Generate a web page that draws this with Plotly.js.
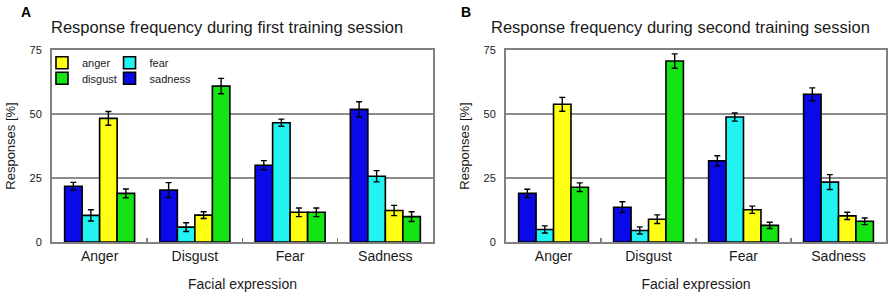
<!DOCTYPE html>
<html>
<head>
<meta charset="utf-8">
<script src="https://cdn.plot.ly/plotly-3.0.1.min.js"></script>
<style>html,body{margin:0;padding:0;background:#fff;}#chart{width:892px;height:299px;}</style>
</head>
<body>
<div id="chart"></div>
<script>
// ---- data ----
var categories = ['Anger', 'Disgust', 'Fear', 'Sadness'];
var yTicks = [0, 25, 50, 75];

// Session 1 (panel A)
var sadness1 = [21.8, 20.3, 30.0, 51.8];
var sadness1Err = [1.5, 2.9, 1.8, 3.0];
var fear1 = [10.4, 5.8, 46.6, 25.7];
var fear1Err = [2.2, 1.7, 1.4, 2.2];
var anger1 = [48.3, 10.5, 11.6, 12.3];
var anger1Err = [2.7, 1.3, 1.7, 2.0];
var disgust1 = [19.0, 60.9, 11.6, 9.9];
var disgust1Err = [1.7, 3.0, 1.7, 1.9];

// Session 2 (panel B)
var sadness2 = [19.0, 13.6, 31.7, 57.7];
var sadness2Err = [1.6, 2.1, 2.0, 2.5];
var fear2 = [4.9, 4.5, 48.8, 23.4];
var fear2Err = [1.4, 1.4, 1.6, 2.9];
var anger2 = [53.8, 8.9, 12.6, 10.2];
var anger2Err = [2.7, 1.7, 1.4, 1.4];
var disgust2 = [21.4, 70.7, 6.5, 8.1];
var disgust2Err = [1.7, 2.8, 1.2, 1.3];

// ---- styles ----
var colors = {sadness: '#0a0ae8', fear: '#22f2f2', anger: '#ffff14', disgust: '#14e414'};
var FONT = 'Liberation Sans, Arial, sans-serif';
var TXT = '#1a1a1a';

// each legend entry in its own legend so the 2x2 layout can be placed exactly
var legendOf = {anger: 'legend', disgust: 'legend2', fear: 'legend3', sadness: 'legend4'};

function bar(name, y, err, xa, ya, show) {
  return {
    type: 'bar', name: name, x: categories, y: y,
    xaxis: xa, yaxis: ya,
    marker: {color: colors[name], line: {color: '#000', width: 1.6}},
    error_y: {type: 'data', array: err, visible: true, color: '#000', thickness: 1.4, width: 3},
    showlegend: show, legend: legendOf[name]
  };
}

var data = [
  bar('sadness', sadness1, sadness1Err, 'x', 'y', true),
  bar('fear', fear1, fear1Err, 'x', 'y', true),
  bar('anger', anger1, anger1Err, 'x', 'y', true),
  bar('disgust', disgust1, disgust1Err, 'x', 'y', true),
  bar('sadness', sadness2, sadness2Err, 'x2', 'y2', false),
  bar('fear', fear2, fear2Err, 'x2', 'y2', false),
  bar('anger', anger2, anger2Err, 'x2', 'y2', false),
  bar('disgust', disgust2, disgust2Err, 'x2', 'y2', false)
];

function xaxis(domain, anchor) {
  return {
    domain: domain, anchor: anchor, type: 'category',
    showline: true, linecolor: '#808080', linewidth: 2, mirror: true,
    ticks: 'inside', tickson: 'boundaries', ticklen: 4, tickcolor: '#808080', tickwidth: 1.5,
    tickfont: {family: FONT, size: 14, color: TXT},
    title: {text: 'Facial expression', font: {family: FONT, size: 14, color: TXT}, standoff: 16},
    showgrid: false, zeroline: false, fixedrange: true
  };
}
function yaxis(anchor) {
  return {
    anchor: anchor, range: [0, 75], tickvals: yTicks,
    showline: true, linecolor: '#808080', linewidth: 2, mirror: true,
    showgrid: true, gridcolor: '#8c8c8c', gridwidth: 1.5, zeroline: false,
    ticks: '', ticklabelstandoff: 6,
    tickfont: {family: FONT, size: 11, color: TXT},
    title: {text: 'Responses [%]', font: {family: FONT, size: 13, color: TXT}, standoff: 11},
    fixedrange: true
  };
}

var legendBase = {
  orientation: 'v', bgcolor: 'rgba(0,0,0,0)', borderwidth: 0,
  font: {family: FONT, size: 11, color: TXT},
  xanchor: 'left', yanchor: 'top', itemclick: false, itemdoubleclick: false
};
var col1 = -0.012, col2 = 0.069, row1 = 1.009, row2 = 0.928;

var layout = {
  width: 892, height: 299,
  margin: {l: 52, r: 6, t: 50, b: 57},
  paper_bgcolor: '#fff', plot_bgcolor: '#fff',
  barmode: 'group', bargap: 0.265, bargroupgap: 0,
  xaxis: xaxis([0, 0.4568], 'y'),
  yaxis: yaxis('x'),
  xaxis2: xaxis([0.5444, 1], 'y2'),
  yaxis2: yaxis('x2'),
  legend: Object.assign({}, legendBase, {x: col1, y: row1}),
  legend2: Object.assign({}, legendBase, {x: col1, y: row2}),
  legend3: Object.assign({}, legendBase, {x: col2, y: row1}),
  legend4: Object.assign({}, legendBase, {x: col2, y: row2}),
  annotations: [
    {text: '<b>A</b>', xref: 'paper', yref: 'paper', x: -0.04, y: 1.145, xanchor: 'left', yanchor: 'bottom', showarrow: false, font: {family: FONT, size: 14, color: '#000'}},
    {text: 'Response frequency during first training session', xref: 'paper', yref: 'paper', x: -0.003, y: 1.065, xanchor: 'left', yanchor: 'bottom', showarrow: false, font: {family: FONT, size: 16.5, color: TXT}},
    {text: '<b>B</b>', xref: 'paper', yref: 'paper', x: 0.4885, y: 1.145, xanchor: 'left', yanchor: 'bottom', showarrow: false, font: {family: FONT, size: 14, color: '#000'}},
    {text: 'Response frequency during second training session', xref: 'paper', yref: 'paper', x: 0.524, y: 1.065, xanchor: 'left', yanchor: 'bottom', showarrow: false, font: {family: FONT, size: 16.5, color: TXT}}
  ]
};

Plotly.newPlot('chart', data, layout, {displayModeBar: false, staticPlot: true});
</script>
</body>
</html>
